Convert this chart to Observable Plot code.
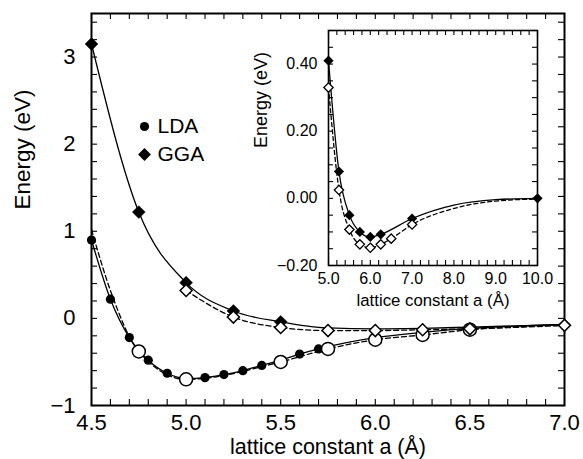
<!DOCTYPE html>
<html>
<head>
<meta charset="utf-8">
<script src="https://cdn.jsdelivr.net/npm/d3@7"></script>
<script src="https://cdn.jsdelivr.net/npm/@observablehq/plot@0.6"></script>
<style>
  body { margin: 0; background: white; }
  #wrap { position: relative; width: 583px; height: 459px; font-family: "Liberation Sans", Arial, sans-serif; }
  #wrap svg { position: absolute; background: transparent; }
</style>
</head>
<body>
<div id="wrap"></div>
<script>
// ---------- Main plot data ----------
const xTickLabels = [4.5, 5.0, 5.5, 6.0, 6.5, 7.0];
const yTickLabels = [-1, 0, 1, 2, 3];
const xTitle = "lattice constant a (Å)";
const yTitle = "Energy (eV)";

// LDA, filled circles (solid fit)
const ldaX = [4.5, 4.6, 4.7, 4.8, 4.9, 5.0, 5.1, 5.2, 5.3, 5.4, 5.5, 5.6, 5.7];
const ldaY = [0.90, 0.22, -0.22, -0.48, -0.63, -0.69, -0.68, -0.645, -0.60, -0.54, -0.48, -0.41, -0.35];
// continuation of the solid LDA fit curve
const ldaFitX = [6.0, 6.25, 6.5, 7.0];
const ldaFitY = [-0.22, -0.16, -0.115, -0.07];

// LDA, open circles (dashed fit)
const ldaOpenX = [4.75, 5.0, 5.5, 5.75, 6.0, 6.25, 6.5];
const ldaOpenY = [-0.38, -0.70, -0.50, -0.35, -0.245, -0.19, -0.13];
const ldaOpenFitX = [4.5, 4.6, 7.0];
const ldaOpenFitY = [1.02, 0.32, -0.08];

// GGA, filled diamonds (solid fit)
const ggaX = [4.5, 4.75, 5.0, 5.25, 5.5];
const ggaY = [3.15, 1.22, 0.41, 0.085, -0.04];
const ggaFitX = [5.75, 6.0, 6.25, 6.5, 7.0];
const ggaFitY = [-0.11, -0.12, -0.115, -0.10, -0.07];

// GGA, open diamonds (dashed fit)
const ggaOpenX = [5.0, 5.25, 5.5, 5.75, 6.0, 6.25, 6.5, 7.0];
const ggaOpenY = [0.32, 0.015, -0.105, -0.14, -0.14, -0.13, -0.12, -0.08];

// ---------- Inset data ----------
const insetXTickLabels = [5, 6, 7, 8, 9, 10];
const insetYTickLabels = [-0.2, 0.0, 0.2, 0.4];
const inFilledX = [5.0, 5.25, 5.5, 5.75, 6.0, 6.25, 7.0, 10.0];
const inFilledY = [0.41, 0.08, -0.05, -0.10, -0.115, -0.107, -0.06, 0.0];
const inFilledFitX = [8.0, 9.0];
const inFilledFitY = [-0.02, -0.004];
const inOpenX = [5.0, 5.25, 5.5, 5.75, 6.0, 6.25, 6.5, 7.0];
const inOpenY = [0.33, 0.025, -0.093, -0.137, -0.147, -0.137, -0.12, -0.078];
const inOpenFitX = [8.0, 9.0, 10.0];
const inOpenFitY = [-0.03, -0.008, -0.002];

const legendLabels = ["LDA", "GGA"];

// ---------- helpers ----------
const rows = (xs, ys) => xs.map((x, i) => ({x, y: ys[i]}));
const sorted = a => a.slice().sort((p, q) => p.x - q.x);
const F = "Liberation Sans, Arial, sans-serif";

const ldaLine = sorted([...rows(ldaX, ldaY), ...rows(ldaFitX, ldaFitY)]);
const ldaOpenLine = sorted([...rows(ldaOpenX, ldaOpenY), ...rows(ldaOpenFitX, ldaOpenFitY)]);
const ggaLine = sorted([...rows(ggaX, ggaY), ...rows(ggaFitX, ggaFitY)]);
const ggaOpenLine = sorted(rows(ggaOpenX, ggaOpenY));

const xMinor = d3.range(45, 71).map(d => d / 10);
const yMinor = d3.range(-5, 18).map(d => d / 5);

// inward ticks drawn as short rules hugging each side of the frame
function inTicks(ticksX, ticksY, len, frameW, frameH) {
  const o = {stroke: "#000", strokeWidth: 1.1};
  return [
    Plot.ruleX(ticksX, {x: d => d, insetTop: frameH - len, ...o}),
    Plot.ruleX(ticksX, {x: d => d, insetBottom: frameH - len, ...o}),
    Plot.ruleY(ticksY, {y: d => d, insetRight: frameW - len, ...o}),
    Plot.ruleY(ticksY, {y: d => d, insetLeft: frameW - len, ...o})
  ];
}

const M = {w: 583, h: 459, l: 91, r: 19, t: 13, b: 54};
const main = Plot.plot({
  width: M.w, height: M.h,
  marginLeft: M.l, marginRight: M.r, marginTop: M.t, marginBottom: M.b,
  style: {fontFamily: F, background: "transparent", color: "black"},
  x: {domain: [4.5, 7.0]},
  y: {domain: [-1, 3.5]},
  marks: [
    Plot.axisX({ticks: xTickLabels, tickFormat: ".1f", tickSize: 0, tickPadding: 9, fontSize: 22, label: null}),
    Plot.axisY({ticks: yTickLabels, tickFormat: "d", tickSize: 0, tickPadding: 16, fontSize: 22, label: null}),
    ...inTicks(xMinor, yMinor, 6, M.w - M.l - M.r, M.h - M.t - M.b),
    Plot.text([xTitle], {frameAnchor: "bottom", dy: 42, text: d => d, fontSize: 21.5, lineAnchor: "middle", fill: "black"}),
    Plot.text([yTitle], {frameAnchor: "left", dx: -69, text: d => d, fontSize: 22.5, rotate: -90, lineAnchor: "middle", fill: "black"}),
    Plot.frame({stroke: "black", strokeWidth: 2}),
    Plot.line(ggaLine, {x: "x", y: "y", curve: "monotone-x", stroke: "black", strokeWidth: 1.3}),
    Plot.line(ggaOpenLine, {x: "x", y: "y", curve: "monotone-x", stroke: "black", strokeWidth: 1.3, strokeDasharray: "5,3"}),
    Plot.line(ldaLine, {x: "x", y: "y", curve: "monotone-x", stroke: "black", strokeWidth: 1.3}),
    Plot.line(ldaOpenLine, {x: "x", y: "y", curve: "monotone-x", stroke: "black", strokeWidth: 1.3, strokeDasharray: "5,3"}),
    Plot.dot(rows(ldaX, ldaY), {x: "x", y: "y", r: 4.6, fill: "black", stroke: "none"}),
    Plot.dot(rows(ggaX, ggaY), {x: "x", y: "y", r: 5.8, symbol: "diamond2", fill: "black", stroke: "black", strokeWidth: 0.5}),
    Plot.dot(rows(ldaOpenX, ldaOpenY), {x: "x", y: "y", r: 6.5, fill: "white", stroke: "black", strokeWidth: 1.5}),
    Plot.dot(rows(ggaOpenX, ggaOpenY), {x: "x", y: "y", r: 5.4, symbol: "diamond2", fill: "white", stroke: "black", strokeWidth: 1.5}),
    // legend
    Plot.dot([legendLabels[0]], {frameAnchor: "top-left", dx: 53, dy: 113, r: 4.6, fill: "black", stroke: "none"}),
    Plot.dot([legendLabels[1]], {frameAnchor: "top-left", dx: 53, dy: 141, r: 5.8, symbol: "diamond2", fill: "black", stroke: "none"}),
    Plot.text([legendLabels[0]], {frameAnchor: "top-left", dx: 66, dy: 113, text: d => d, textAnchor: "start", lineAnchor: "middle", fontSize: 21, fill: "black"}),
    Plot.text([legendLabels[1]], {frameAnchor: "top-left", dx: 66, dy: 141, text: d => d, textAnchor: "start", lineAnchor: "middle", fontSize: 21, fill: "black"})
  ]
});

const inXMinor = d3.range(25, 51).map(d => d / 5);
const inYMinor = d3.range(-4, 11).map(d => d / 20);

const inFilledLine = sorted([...rows(inFilledX, inFilledY), ...rows(inFilledFitX, inFilledFitY)]);
const inOpenLine = sorted([...rows(inOpenX, inOpenY), ...rows(inOpenFitX, inOpenFitY)]);

const I = {w: 320, h: 320, l: 88, r: 23, t: 30, b: 55};
const inset = Plot.plot({
  width: I.w, height: I.h,
  marginLeft: I.l, marginRight: I.r, marginTop: I.t, marginBottom: I.b,
  style: {fontFamily: F, background: "transparent", color: "black"},
  x: {domain: [5, 10]},
  y: {domain: [-0.2, 0.5]},
  marks: [
    Plot.frame({fill: "white", stroke: "none"}),
    Plot.axisX({ticks: insetXTickLabels, tickFormat: ".1f", tickSize: 0, tickPadding: 7, fontSize: 16, label: null}),
    Plot.axisY({ticks: insetYTickLabels, tickFormat: ".2f", tickSize: 0, tickPadding: 11, fontSize: 16, label: null}),
    ...inTicks(inXMinor, inYMinor, 5, I.w - I.l - I.r, I.h - I.t - I.b),
    Plot.text([xTitle], {frameAnchor: "bottom", dy: 35, text: d => d, fontSize: 16.8, lineAnchor: "middle", fill: "black"}),
    Plot.text([yTitle], {frameAnchor: "left", dx: -67, text: d => d, fontSize: 18, rotate: -90, lineAnchor: "middle", fill: "black"}),
    Plot.frame({stroke: "black", strokeWidth: 1.6}),
    Plot.line(inFilledLine, {x: "x", y: "y", curve: "monotone-x", stroke: "black", strokeWidth: 1.3}),
    Plot.line(inOpenLine, {x: "x", y: "y", curve: "monotone-x", stroke: "black", strokeWidth: 1.3, strokeDasharray: "4,3"}),
    Plot.dot(rows(inFilledX, inFilledY), {x: "x", y: "y", r: 4.6, symbol: "diamond2", fill: "black", stroke: "none"}),
    Plot.dot(rows(inOpenX, inOpenY), {x: "x", y: "y", r: 4.2, symbol: "diamond2", fill: "white", stroke: "black", strokeWidth: 1.3})
  ]
});

const wrap = document.getElementById("wrap");
main.style.left = "0px"; main.style.top = "0px";
inset.style.left = "240px"; inset.style.top = "0px";
wrap.appendChild(main);
wrap.appendChild(inset);
</script>
</body>
</html>
